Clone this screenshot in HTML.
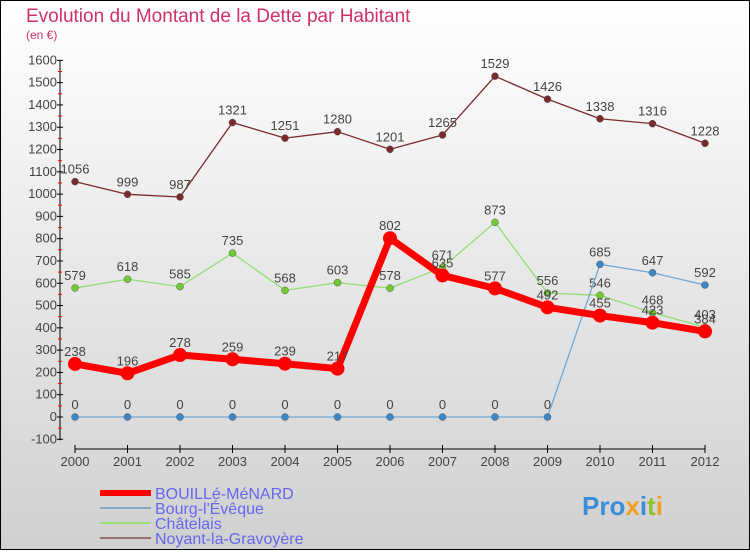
<!DOCTYPE html>
<html><head><meta charset="utf-8"><style>
html,body{margin:0;padding:0}
body{width:750px;height:550px;overflow:hidden;font-family:"Liberation Sans",sans-serif}
</style></head><body>
<svg id="c" width="750" height="550" xmlns="http://www.w3.org/2000/svg">
<defs><linearGradient id="bg" x1="0" y1="0" x2="0" y2="1"><stop offset="0" stop-color="#ffffff"/><stop offset="1" stop-color="#d0d0d0"/></linearGradient></defs>
<rect x="0.5" y="0.5" width="749" height="549" fill="url(#bg)" stroke="#000"/>
<text x="26" y="22" font-size="19" fill="#d0306a">Evolution du Montant de la Dette par Habitant</text>
<text x="26" y="39" font-size="12" fill="#d0306a">(en €)</text>
<g id="axes"></g><g id="series"></g><g id="legend"></g>
<text x="582" y="515" font-size="26" font-weight="bold" fill="#3a8fd8">Pro<tspan fill="#f0a020">x</tspan><tspan fill="#3a8fd8">i</tspan><tspan fill="#90c030">t</tspan><tspan fill="#f0a020">i</tspan></text>
</svg>
<script>
const years=["2000","2001","2002","2003","2004","2005","2006","2007","2008","2009","2010","2011","2012"];
const yTicks=[-100,0,100,200,300,400,500,600,700,800,900,1000,1100,1200,1300,1400,1500,1600];
const bouille=[238,196,278,259,239,217,802,635,577,492,455,423,384];
const bourg=[0,0,0,0,0,0,0,0,0,0,685,647,592];
const chatelais=[579,618,585,735,568,603,578,671,873,556,546,468,403];
const noyant=[1056,999,987,1321,1251,1280,1201,1265,1529,1426,1338,1316,1228];
const NS="http://www.w3.org/2000/svg";
const X=i=>75+i*52.5;
const Y=v=>417-v*0.2229;
function mk(t,a,p){const e=document.createElementNS(NS,t);for(const k in a)e.setAttribute(k,a[k]);p.appendChild(e);return e;}
const ax=document.getElementById('axes');
const yl=mk('line',{x1:60,y1:Y(1600),x2:60,y2:Y(-100)+1,stroke:'#000'},ax);


yTicks.forEach((v,k)=>{
 mk('line',{x1:57,x2:63,y1:Y(v),y2:Y(v),stroke:'#000'},ax);
 if(k<yTicks.length-1) mk('line',{x1:58,x2:62,y1:Y(v+50),y2:Y(v+50),stroke:'#f00'},ax);
 const t=mk('text',{x:57,y:Y(v)+4,'font-size':13,fill:'#444','text-anchor':'end'},ax);t.textContent=v;
 
 
});
const xl=mk('line',{x1:75,x2:705,y1:449,y2:449,stroke:'#000'},ax);


years.forEach((y,i)=>{
 mk('line',{x1:X(i),x2:X(i),y1:445,y2:453,stroke:'#000'},ax);
 const t=mk('text',{x:X(i),y:466,'font-size':13,fill:'#444','text-anchor':'middle'},ax);t.textContent=y;
 
 
});
const S=document.getElementById('series');
const defs=[
 {d:noyant,c:'#7a2a2a',w:1.3,r:3.5,n:'noyant'},
 {d:chatelais,c:'#90dd70',w:1.3,r:3.5,dc:'#70cc30',n:'chatelais'},
 {d:bourg,c:'#70a8d8',w:1.3,r:3.5,dc:'#3a88c8',n:'bourg'},
 {d:bouille,c:'#ff0000',w:7,r:7,n:'bouille'}];
defs.forEach(s=>{
 const g=mk('g',{},S);
 
 
 const pl=mk('polyline',{points:s.d.map((v,i)=>X(i)+','+Y(v)).join(' '),fill:'none',stroke:s.c,'stroke-width':s.w,'stroke-linejoin':'round'},g);
 
 
 s.d.forEach((v,i)=>{
  const c=mk('circle',{cx:X(i),cy:Y(v),r:s.r,fill:s.dc||s.c,stroke:'#555','stroke-width':s.r>5?0:0.5},g);
  
  
  const t=mk('text',{x:X(i),y:Y(v)-8,'font-size':13,fill:'#444','text-anchor':'middle'},g);t.textContent=v;
  
  
 });
});
const L=document.getElementById('legend');
const leg=[['BOUILLé-MéNARD','#f00',6],['Bourg-l\'Évêque','#80aacc',2],['Châtelais','#99dd77',2],['Noyant-la-Gravoyère','#997070',2]];
leg.forEach((l,i)=>{
 const y=493+i*15;
 const ln=mk('line',{x1:100,x2:151,y1:y,y2:y,stroke:l[1],'stroke-width':l[2]},L);
 
 
 const t=mk('text',{x:155,y:y+6,'font-size':16,fill:'#6666ee'},L);t.textContent=l[0];
 
 
});
</script>
</body></html>
